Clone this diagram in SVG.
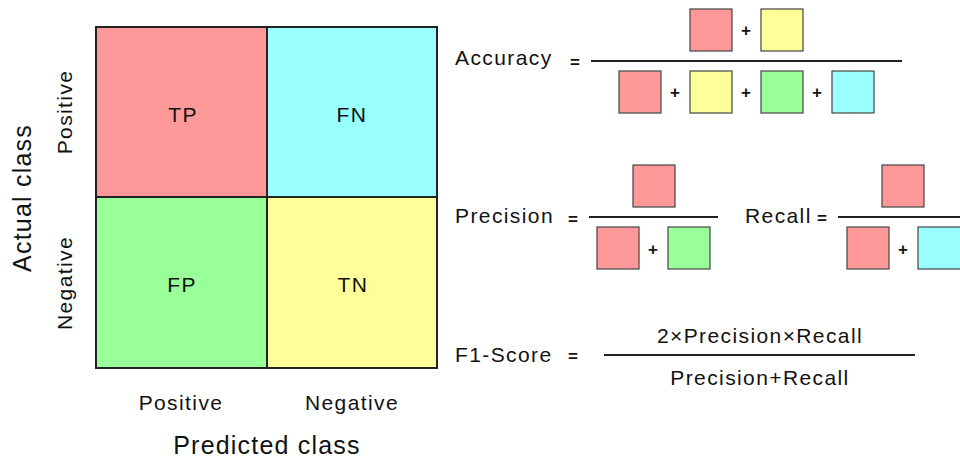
<svg xmlns="http://www.w3.org/2000/svg" width="960" height="458" viewBox="0 0 960 458">
  <style>
    text { font-family: "Liberation Sans", Arial, sans-serif; fill: #111; }
    .lbl { font-size: 21px; letter-spacing: 1.4px; }
    .axis { font-size: 25px; letter-spacing: 1.2px; }
    .op { font-size: 17px; font-weight: bold; text-anchor: middle; }
    .mid { text-anchor: middle; }
    .cell { stroke: #222; stroke-width: 2; }
    .box { stroke: #444; stroke-width: 1.2; }
    .bar { stroke: #222; stroke-width: 2; }
    .tp { fill: #ff9999; }
    .fn { fill: #99ffff; }
    .fp { fill: #99ff99; }
    .tn { fill: #ffff99; }
  </style>

  <!-- confusion matrix -->
  <g id="matrix">
    <g id="cell-tp">
      <rect class="cell tp" x="96" y="27" width="171" height="170"/>
      <text class="lbl mid" x="183" y="122">TP</text>
    </g>
    <g id="cell-fn">
      <rect class="cell fn" x="267" y="27" width="170" height="170"/>
      <text class="lbl mid" x="352" y="122">FN</text>
    </g>
    <g id="cell-fp">
      <rect class="cell fp" x="96" y="197" width="171" height="171"/>
      <text class="lbl mid" x="182" y="292">FP</text>
    </g>
    <g id="cell-tn">
      <rect class="cell tn" x="267" y="197" width="170" height="171"/>
      <text class="lbl mid" x="353" y="292">TN</text>
    </g>
  </g>

  <!-- axis labels -->
  <g id="axes">
    <text class="lbl mid" x="181" y="410">Positive</text>
    <text class="lbl mid" x="352" y="410">Negative</text>
    <text class="axis mid" x="267" y="454">Predicted class</text>
    <text class="axis mid" transform="translate(31,198) rotate(-90)">Actual class</text>
    <text class="lbl mid" transform="translate(72,112) rotate(-90)">Positive</text>
    <text class="lbl mid" transform="translate(72,283) rotate(-90)">Negative</text>
  </g>

  <!-- accuracy -->
  <g id="accuracy">
    <text class="lbl" x="455" y="65">Accuracy</text>
    <text class="op" x="575" y="67.5">=</text>
    <line class="bar" x1="591" y1="61" x2="902" y2="61"/>
    <rect class="box tp" x="690" y="9" width="42" height="42"/>
    <text class="op" x="746" y="36">+</text>
    <rect class="box tn" x="761" y="9" width="42" height="42"/>
    <rect class="box tp" x="619" y="71" width="42" height="42"/>
    <text class="op" x="675" y="98">+</text>
    <rect class="box tn" x="690" y="71" width="42" height="42"/>
    <text class="op" x="746" y="98">+</text>
    <rect class="box fp" x="761" y="71" width="42" height="42"/>
    <text class="op" x="817" y="98">+</text>
    <rect class="box fn" x="832" y="71" width="42" height="42"/>
  </g>

  <!-- precision -->
  <g id="precision">
    <text class="lbl" x="455" y="223">Precision</text>
    <text class="op" x="573" y="225">=</text>
    <line class="bar" x1="589" y1="217" x2="718" y2="217"/>
    <rect class="box tp" x="633" y="165" width="42" height="42"/>
    <rect class="box tp" x="597" y="227" width="42" height="42"/>
    <text class="op" x="653" y="255">+</text>
    <rect class="box fp" x="668" y="227" width="42" height="42"/>
  </g>

  <!-- recall -->
  <g id="recall">
    <text class="lbl" x="745" y="223">Recall</text>
    <text class="op" x="822" y="224">=</text>
    <line class="bar" x1="838" y1="217" x2="960" y2="217"/>
    <rect class="box tp" x="882" y="165" width="42" height="42"/>
    <rect class="box tp" x="847" y="227" width="42" height="42"/>
    <text class="op" x="903" y="255">+</text>
    <rect class="box fn" x="918" y="227" width="44" height="42"/>
  </g>

  <!-- f1 score -->
  <g id="f1">
    <text class="lbl" x="455" y="362">F1-Score</text>
    <text class="op" x="573" y="362">=</text>
    <line class="bar" x1="604" y1="355" x2="915" y2="355"/>
    <text class="lbl mid" x="760" y="343">2×Precision×Recall</text>
    <text class="lbl mid" x="760" y="385">Precision+Recall</text>
  </g>
</svg>
